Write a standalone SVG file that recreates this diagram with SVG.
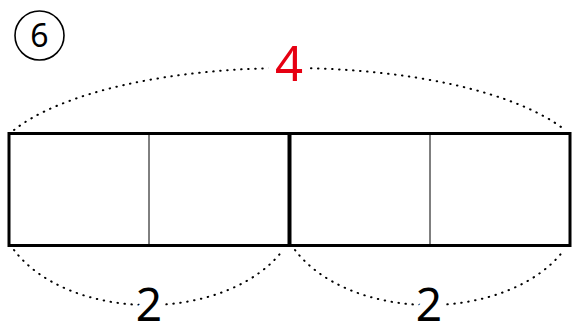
<svg xmlns="http://www.w3.org/2000/svg" width="579" height="324" viewBox="0 0 579 324">
<style>
.dot{fill:none;stroke:#000;stroke-width:2;stroke-linecap:round;stroke-dasharray:0.5 6.5}
.lbl{font-family:"Noto Sans","DejaVu Sans",sans-serif;text-anchor:middle;paint-order:stroke;stroke:#fff;stroke-width:16;stroke-linejoin:round}
</style>
<rect width="579" height="324" fill="#fff"/>
<g id="badge">
<circle cx="39.5" cy="35.5" r="24.5" fill="none" stroke="#000" stroke-width="1.6"/>
<text x="39.5" y="47" font-family="'Noto Sans','DejaVu Sans',sans-serif" font-size="32" text-anchor="middle">6</text>
</g>
<g id="connectors">
<path class="dot" d="M14,130 A300,102.6 0 0 1 565,130"/>
<path class="dot" d="M14,250 A150,98.7 0 0 0 283,250"/>
<path class="dot" d="M295,250 A150,98.7 0 0 0 564,250"/>
</g>
<g id="bar">
<rect x="9" y="133.5" width="561" height="112" fill="none" stroke="#000" stroke-width="3"/>
<line x1="149" y1="133.5" x2="149" y2="245.5" stroke="#000" stroke-width="1"/>
<line x1="430" y1="133.5" x2="430" y2="245.5" stroke="#000" stroke-width="1"/>
<line x1="289.5" y1="133.5" x2="289.5" y2="245.5" stroke="#000" stroke-width="4"/>
</g>
<g id="label-total"><text class="lbl" x="289" y="81" font-size="49" fill="#e60012">4</text></g>
<g id="label-left"><text class="lbl" x="149" y="321" font-size="46" fill="#000">2</text></g>
<g id="label-right"><text class="lbl" x="429" y="321" font-size="46" fill="#000">2</text></g>
</svg>
